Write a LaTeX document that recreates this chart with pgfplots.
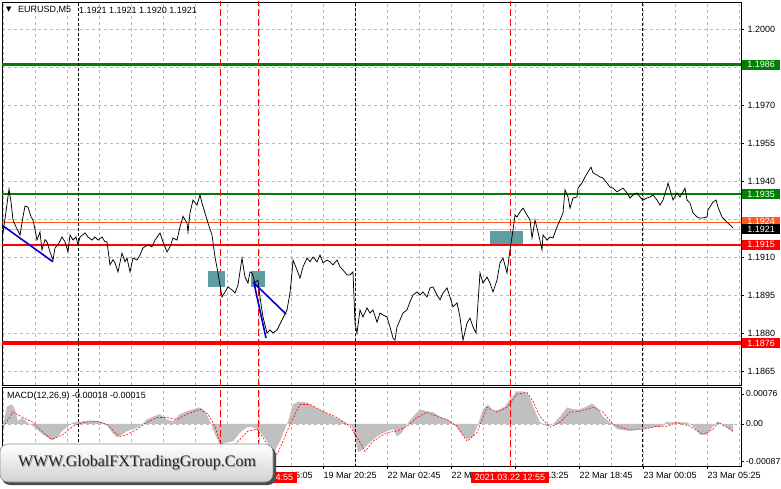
\documentclass[border=0pt]{standalone}
\usepackage{pgfplots}
\pgfplotsset{compat=1.18}
\usepackage{pgfplotstable}
\usepackage{fontspec}
\setmainfont{Liberation Sans}
\newfontfamily\wmfont{Liberation Serif}
\newfontfamily\symfont{DejaVu Sans}

\definecolor{mtgreen}{RGB}{0,128,0}
\definecolor{mtred}{RGB}{255,0,0}
\definecolor{mtorange}{RGB}{255,90,30}
\definecolor{gridc}{RGB}{185,185,185}
\definecolor{histc}{RGB}{192,192,192}
\definecolor{boxteal}{RGB}{95,158,160}
\definecolor{tlblue}{RGB}{0,0,205}

% EURUSD M5 close, x = bar position on screen
\pgfplotstableread{
x p
3 1.19196
6 1.19280
9 1.19369
11 1.19320
13 1.19247
16 1.19220
20 1.19188
23 1.19260
25 1.19302
28 1.19298
31 1.19260
33 1.19247
35 1.19210
37 1.19168
40 1.19200
42 1.19129
45 1.19170
47 1.19161
50 1.19121
53 1.19089
55 1.19137
58 1.19149
62 1.19180
65 1.19161
68 1.19121
70 1.19188
73 1.19168
76 1.19180
78 1.19149
80 1.19180
85 1.19196
88 1.19180
92 1.19168
95 1.19180
98 1.19168
102 1.19180
105 1.19161
107 1.19161
110 1.19070
113 1.19090
115 1.19078
118 1.19042
122 1.19117
125 1.19082
127 1.19097
130 1.19042
133 1.19097
137 1.19089
140 1.19109
143 1.19137
148 1.19149
152 1.19141
155 1.19168
160 1.19196
163 1.19161
167 1.19121
170 1.19141
173 1.19176
177 1.19168
180 1.19220
183 1.19262
187 1.19235
188 1.19200
190 1.19275
193 1.19326
197 1.19306
200 1.19346
202 1.19314
205 1.19275
208 1.19235
212 1.19188
215 1.19101
218 1.19038
222 1.18943
225 1.18963
228 1.18983
232 1.18971
235 1.18959
238 1.18990
242 1.19097
245 1.19022
248 1.18998
250 1.19042
252 1.19038
255 1.19000
258 1.19010
260 1.18943
263 1.18864
267 1.18801
270 1.18813
273 1.18801
277 1.18813
282 1.18852
287 1.18892
290 1.18959
292 1.19038
293 1.19089
297 1.19050
300 1.19018
303 1.19062
307 1.19097
310 1.19082
313 1.19101
317 1.19082
320 1.19109
323 1.19078
327 1.19089
330 1.19082
333 1.19070
337 1.19089
340 1.19062
343 1.19050
347 1.19030
350 1.19030
353 1.19042
355 1.18840
357 1.18801
360 1.18892
363 1.18864
367 1.18900
370 1.18880
373 1.18892
377 1.18844
380 1.18880
383 1.18872
387 1.18864
390 1.18825
393 1.18781
395 1.18773
397 1.18825
400 1.18852
403 1.18880
407 1.18892
410 1.18924
413 1.18951
417 1.18963
420 1.18951
423 1.18963
427 1.18943
430 1.18979
433 1.18983
437 1.18951
440 1.18932
443 1.18959
447 1.18979
450 1.18943
453 1.18904
457 1.18920
460 1.18864
462 1.18801
463 1.18773
467 1.18840
470 1.18860
473 1.18825
476 1.18801
478 1.18920
480 1.19038
483 1.18998
487 1.19022
490 1.18998
493 1.18963
497 1.19010
500 1.19078
503 1.19097
507 1.19038
510 1.19129
513 1.19208
515 1.19267
517 1.19259
520 1.19279
523 1.19294
527 1.19267
530 1.19247
532 1.19176
535 1.19247
538 1.19200
542 1.19129
543 1.19188
547 1.19168
550 1.19180
553 1.19176
557 1.19220
560 1.19247
563 1.19275
565 1.19366
568 1.19338
570 1.19294
573 1.19334
577 1.19338
578 1.19373
582 1.19393
585 1.19417
588 1.19437
591 1.19456
593 1.19433
597 1.19425
600 1.19417
603 1.19413
607 1.19393
610 1.19377
613 1.19373
617 1.19358
620 1.19366
623 1.19373
627 1.19354
630 1.19334
633 1.19346
637 1.19354
640 1.19338
643 1.19326
647 1.19334
650 1.19338
653 1.19346
657 1.19326
660 1.19306
663 1.19326
667 1.19377
668 1.19393
671 1.19354
673 1.19326
677 1.19354
680 1.19338
683 1.19358
685 1.19373
687 1.19326
690 1.19314
693 1.19275
697 1.19259
700 1.19255
703 1.19255
707 1.19259
708 1.19287
713 1.19318
716 1.19326
718 1.19298
722 1.19259
725 1.19247
728 1.19235
733 1.19216
}\pricedata

% MACD(12,26,9) main (histogram)
\pgfplotstableread{
x m
3 -0.00001
7 0.00036
12 0.00040
15 0.00030
18 0.00005
22 0.00013
27 0.00003
33 -0.00005
43 -0.00022
52 -0.00034
57 -0.00028
62 -0.00015
68 -0.00005
73 0.00003
83 0.00005
90 0.00007
100 0.00005
107 -0.00001
112 -0.00018
117 -0.00028
122 -0.00022
127 -0.00015
133 -0.00011
140 -0.00005
147 0.00009
153 0.00015
160 0.00020
167 0.00009
173 0.00005
180 0.00020
187 0.00026
193 0.00030
200 0.00034
205 0.00026
210 0.00005
215 -0.00022
220 -0.00042
227 -0.00038
233 -0.00036
240 -0.00018
247 -0.00007
253 -0.00007
260 -0.00015
267 -0.00036
273 -0.00063
280 -0.00036
288 0.00005
293 0.00040
298 0.00046
307 0.00044
313 0.00036
323 0.00026
333 0.00015
343 0.00005
352 -0.00005
355 -0.00028
358 -0.00059
363 -0.00053
370 -0.00038
377 -0.00026
387 -0.00015
393 -0.00011
397 -0.00026
402 -0.00018
407 -0.00001
413 0.00015
420 0.00030
427 0.00026
433 0.00024
440 0.00015
447 0.00009
452 0.00003
457 -0.00007
462 -0.00022
467 -0.00032
473 -0.00026
478 -0.00001
483 0.00030
488 0.00040
493 0.00026
500 0.00030
505 0.00036
510 0.00051
517 0.00067
523 0.00067
528 0.00061
533 0.00036
540 0.00003
547 -0.00005
553 -0.00001
560 0.00015
567 0.00034
573 0.00030
580 0.00030
587 0.00036
592 0.00042
597 0.00034
603 0.00015
610 0.00003
617 -0.00011
630 -0.00015
643 -0.00011
653 -0.00007
660 -0.00007
667 0.00005
670 0.00003
677 0.00003
687 0.00003
693 -0.00005
700 -0.00022
707 -0.00022
713 -0.00005
717 0.00003
720 0.00003
727 -0.00007
733 -0.00018
}\macddata

% MACD signal line
\pgfplotstableread{
x s
3 -0.00007
13 0.00024
23 0.00013
33 0.00003
43 -0.00018
52 -0.00032
63 -0.00022
73 -0.00005
83 0.00003
97 0.00005
107 -0.00001
115 -0.00018
120 -0.00026
127 -0.00022
137 -0.00011
147 0.00003
157 0.00013
167 0.00013
177 0.00009
187 0.00020
200 0.00030
208 0.00020
215 -0.00005
220 -0.00038
230 -0.00053
240 -0.00032
248 -0.00015
257 -0.00011
263 -0.00028
270 -0.00053
277 -0.00063
283 -0.00036
290 -0.00001
300 0.00040
310 0.00040
323 0.00026
337 0.00013
350 -0.00005
360 -0.00038
365 -0.00057
373 -0.00036
387 -0.00018
397 -0.00015
407 -0.00005
417 0.00013
427 0.00024
437 0.00015
447 0.00009
457 -0.00005
467 -0.00036
477 -0.00018
487 0.00034
497 0.00024
507 0.00034
517 0.00061
527 0.00065
533 0.00046
540 0.00015
550 -0.00007
560 0.00003
570 0.00024
580 0.00026
593 0.00034
603 0.00024
613 -0.00001
627 -0.00011
643 -0.00011
657 -0.00005
667 -0.00005
677 0.00003
690 -0.00005
703 -0.00022
713 -0.00011
718 0.00003
730 -0.00011
733 -0.00015
}\signaldata

\tikzset{
  sepblack/.style={black, line width=0.8pt, dash pattern=on 3pt off 2pt},
  sepred/.style={mtred, line width=0.8pt, dash pattern=on 7pt off 3pt},
  valbox/.style={anchor=west, xshift=1pt, inner sep=0pt, minimum width=38pt,
    minimum height=10pt, text=white, font=\fontsize{9}{10}\selectfont},
}
\pgfplotsset{
  mt/.style={
    scale only axis, width=739pt, xmin=2, xmax=741,
    axis line style={black, line width=0.8pt},
    tick style={black, line width=0.5pt},
    major tick length=3pt, minor tick length=0pt,
    tick align=outside,
    ytick pos=right, yticklabel pos=right, xtick pos=bottom,
    scaled y ticks=false, scaled x ticks=false,
    tick label style={font=\fontsize{9}{10}\selectfont},
    xtick={3,67,...,707}, minor xtick={35,99,...,739},
    xmajorgrids, xminorgrids,
    major grid style={gridc, dash pattern=on 3pt off 3pt, line width=0.5pt},
    minor grid style={gridc, dash pattern=on 3pt off 3pt, line width=0.5pt},
  },
}

\begin{document}
\begin{tikzpicture}
\fill[white] (0pt,0pt) rectangle (781pt,-489pt);
\useasboundingbox (0pt,0pt) rectangle (781pt,-489pt);

% ---------- price panel ----------
\begin{axis}[mt, at={(2pt,-2pt)}, anchor=north west, height=383pt,
  ymin=1.185957, ymax=1.201078,
  ytick={1.1865,1.1880,1.1895,1.1910,1.1925,1.1940,1.1955,1.1970,1.1985,1.2000},
  yticklabels={1.1865,1.1880,1.1895,1.1910,,1.1940,1.1955,1.1970,,1.2000},
  ymajorgrids,
  xticklabels={}, xtick style={draw=none}]
  % level lines
  \addplot[gridc!80, line width=0.6pt] coordinates {(2,1.1921) (741,1.1921)};
  \addplot[mtorange, line width=0.6pt] coordinates {(2,1.1924) (741,1.1924)};
  \addplot[mtgreen, line width=2.6pt] coordinates {(2,1.1986) (741,1.1986)};
  \addplot[mtgreen, line width=1.8pt] coordinates {(2,1.1935) (741,1.1935)};
  \addplot[mtred, line width=1.8pt] coordinates {(2,1.1915) (741,1.1915)};
  \addplot[mtred, line width=3.8pt] coordinates {(2,1.1876) (741,1.1876)};
  % separators
  \addplot[sepblack] coordinates {(78,1.1859) (78,1.2011)};
  \addplot[sepblack] coordinates {(355,1.1859) (355,1.2011)};
  \addplot[sepblack] coordinates {(642,1.1859) (642,1.2011)};
  \addplot[sepred] coordinates {(220,1.1859) (220,1.2011)};
  \addplot[sepred] coordinates {(258,1.1859) (258,1.2011)};
  \addplot[sepred] coordinates {(510,1.1859) (510,1.2011)};
  % zones
  \addplot[fill=boxteal, draw=none] coordinates {(208,1.18983) (225,1.18983) (225,1.19046) (208,1.19046)};
  \addplot[fill=boxteal, draw=none] coordinates {(251,1.18983) (265,1.18983) (265,1.19046) (251,1.19046)};
  \addplot[fill=boxteal, draw=none] coordinates {(490,1.19153) (523,1.19153) (523,1.19204) (490,1.19204)};
  % price
  \addplot[black, line width=0.75pt] table[x=x, y=p] {\pricedata};
  % trend lines
  \addplot[tlblue, line width=1.6pt] coordinates {(3,1.19224) (53,1.19082)};
  \addplot[tlblue, line width=1.6pt] coordinates {(266,1.18781) (254,1.18998) (286,1.18876)};
  \coordinate (L1986) at (741,1.1986);
  \coordinate (L1935) at (741,1.1935);
  \coordinate (L1924) at (741,1.1924);
  \coordinate (L1921) at (741,1.1921);
  \coordinate (L1915) at (741,1.1915);
  \coordinate (L1876) at (741,1.1876);
\end{axis}

% ---------- MACD panel ----------
\begin{axis}[mt, at={(2pt,-387pt)}, anchor=north west, height=79pt,
  ymin=-0.00087, ymax=0.00076,
  ytick={-0.00077,0,0.00062}, yticklabels={-0.00087,0.00,0.00076},
  yticklabel style={xshift=-1.5pt, font=\fontsize{8.7}{10}\selectfont},
  xticklabels={18 Mar 17:45,18 Mar 23:05,19 Mar 04:25,19 Mar 09:45,19 Mar 15:05,19 Mar 20:25,22 Mar 02:45,22 Mar 08:05,22 Mar 13:25,22 Mar 18:45,23 Mar 00:05,23 Mar 05:25},
  xticklabel style={anchor=north west, xshift=-3pt}]
  \addplot[gridc, line width=0.5pt, dash pattern=on 3pt off 3pt] coordinates {(2,0) (741,0)};
  \addplot[fill=histc, draw=none] table[x=x, y=m] {\macddata} \closedcycle;
  \addplot[sepblack] coordinates {(78,-0.0009) (78,0.0008)};
  \addplot[sepblack] coordinates {(355,-0.0009) (355,0.0008)};
  \addplot[sepblack] coordinates {(642,-0.0009) (642,0.0008)};
  \addplot[sepred] coordinates {(220,-0.0009) (220,0.0008)};
  \addplot[sepred] coordinates {(258,-0.0009) (258,0.0008)};
  \addplot[sepred] coordinates {(510,-0.0009) (510,0.0008)};
  \addplot[mtred, line width=0.6pt, dash pattern=on 2pt off 1.5pt] table[x=x, y=s] {\signaldata};
  \coordinate (T1) at (510,-0.00087);
  \coordinate (T2) at (258,-0.00087);
\end{axis}

% right scale value boxes
\foreach \n/\c/\t in {L1986/mtgreen/1.1986, L1935/mtgreen/1.1935, L1924/mtorange/1.1924,
                      L1921/black/1.1921, L1915/mtred/1.1915, L1876/mtred/1.1876}
  {\node[valbox, fill=\c] at (\n) {\t};}

% panel titles
\node[anchor=west, inner sep=0pt, font=\symfont\fontsize{7}{8}\selectfont] at (6pt,-10pt) {▼};
\node[anchor=west, inner sep=0pt, font=\fontsize{9}{10}\selectfont] at (18pt,-10pt) {EURUSD,M5};
\node[anchor=west, inner sep=0pt, font=\fontsize{9}{10}\selectfont] at (79pt,-10pt) {1.1921 1.1921 1.1920 1.1921};
\node[anchor=west, inner sep=0pt, font=\fontsize{9}{10}\selectfont] at (7pt,-396pt) {MACD(12,26,9) -0.00018 -0.00015};

% vertical line time labels
\node[anchor=north, fill=mtred, text=white, inner xsep=4pt, inner ysep=0pt, minimum height=11pt,
      font=\fontsize{9}{10}\selectfont] at ([yshift=-5.5pt]T1) {2021.03.22 12:55};
\node[anchor=north, fill=mtred, text=white, inner xsep=4pt, inner ysep=0pt, minimum height=11pt,
      font=\fontsize{9}{10}\selectfont] at ([yshift=-5.5pt]T2) {2021.03.19 14:55};

% watermark
\fill[black!70, rounded corners=8pt] (2pt,-447pt) rectangle (276pt,-485pt);
\shade[top color=white, bottom color=black!18, rounded corners=8pt, draw=black!45, line width=0.6pt]
  (0pt,-444pt) rectangle (273pt,-482pt);
\node[text=black!35, font=\wmfont\fontsize{16}{18}\selectfont] at (138pt,-464pt) {WWW.GlobalFXTradingGroup.Com};
\node[text=black!85, font=\wmfont\fontsize{16}{18}\selectfont] at (137pt,-463pt) {WWW.GlobalFXTradingGroup.Com};
\end{tikzpicture}
\end{document}
